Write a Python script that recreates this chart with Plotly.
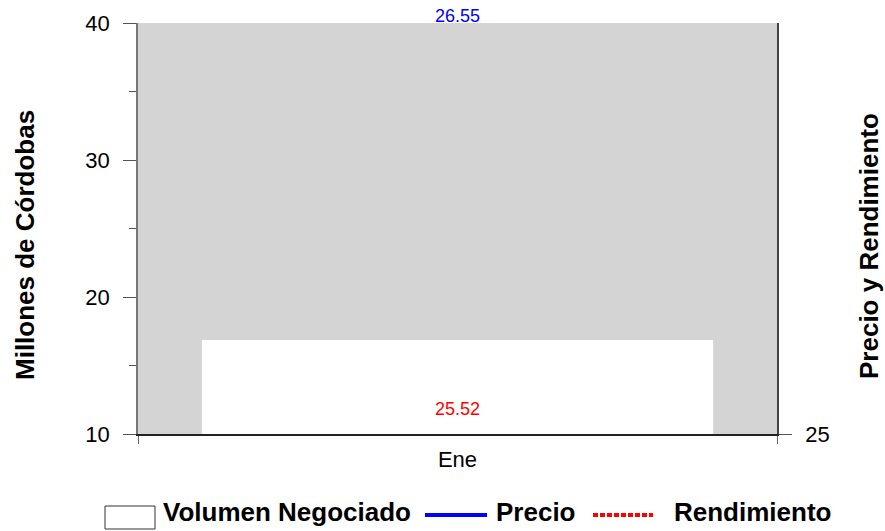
import plotly.graph_objects as go

# ---- data ----
meses = ["Ene"]
volumen = [16.86]          # Millones de Córdobas
precio = [26.55]
rendimiento = [25.52]

W, H = 885, 531
L, R, T, B = 138, 777, 23, 434   # plot area in px


def px_x(p):
    return (p - L) / (R - L)


def px_y(p):
    return (B - p) / (B - T)


FONT = "Arial, Liberation Sans, sans-serif"

fig = go.Figure()
fig.add_trace(go.Bar(x=meses, y=volumen, width=0.8, marker=dict(color="white", line=dict(width=0)),
                     name="Volumen Negociado", showlegend=False))
fig.add_trace(go.Scatter(x=meses, y=precio, yaxis="y2", mode="lines+text", text=[f"{v:.2f}" for v in precio],
                         textposition="top center", textfont=dict(color="#0000ff", size=18, family=FONT),
                         line=dict(color="#0000ff", width=4), cliponaxis=False, name="Precio", showlegend=False))
fig.add_trace(go.Scatter(x=meses, y=rendimiento, yaxis="y3", mode="lines+text", text=[f"{v:.2f}" for v in rendimiento],
                         textposition="top center", textfont=dict(color="#ff0000", size=18, family=FONT),
                         line=dict(color="#ff0000", width=4, dash="dot"), cliponaxis=False, name="Rendimiento",
                         showlegend=False))

shapes = [
    dict(type="rect", xref="paper", yref="paper", x0=px_x(105), x1=px_x(155), y0=px_y(529), y1=px_y(506),
         line=dict(color="#333333", width=1), fillcolor="white"),
    dict(type="line", xref="paper", yref="paper", x0=px_x(425), x1=px_x(487), y0=px_y(515), y1=px_y(515),
         line=dict(color="#0000ff", width=4)),
    dict(type="line", xref="paper", yref="paper", x0=px_x(593), x1=px_x(653), y0=px_y(515), y1=px_y(515),
         line=dict(color="#ff0000", width=4, dash="5px,2px")),
]

ann = []
for txt, x in [("Volumen Negociado", 161), ("Precio", 494), ("Rendimiento", 672)]:
    ann.append(dict(text=f"<b>{txt}</b>", xref="paper", yref="paper", x=px_x(x), y=px_y(512),
                    xanchor="left", yanchor="middle", showarrow=False,
                    font=dict(size=26, family=FONT, color="black")))
ann.append(dict(text="<b>Millones de Córdobas</b>", xref="paper", yref="paper", x=px_x(25), y=px_y(245),
                xanchor="center", yanchor="middle", textangle=-90, showarrow=False,
                font=dict(size=26, family=FONT, color="black")))
ann.append(dict(text="<b>Precio y Rendimiento</b>", xref="paper", yref="paper", x=px_x(869), y=px_y(246),
                xanchor="center", yanchor="middle", textangle=-90, showarrow=False,
                font=dict(size=26, family=FONT, color="black")))

fig.update_layout(
    width=W, height=H,
    margin=dict(l=L, r=W - R, t=T, b=H - B, pad=0),
    paper_bgcolor="white", plot_bgcolor="#d4d4d4",
    font=dict(family=FONT, color="black"),
    showlegend=False,
    shapes=shapes, annotations=ann,
    xaxis=dict(type="category", range=[-0.5, 0.5], showgrid=False, zeroline=False,
               showline=True, linecolor="#222222", linewidth=1.5,
               ticks="outside", tickson="boundaries", ticklen=8, tickcolor="#666666",
               tickfont=dict(size=22), ticklabelstandoff=5),
    yaxis=dict(range=[10, 40], dtick=10, showgrid=False, zeroline=False,
               showline=True, linecolor="#777777", linewidth=1.5,
               ticks="outside", ticklen=13, tickcolor="#555555", tickwidth=1,
               minor=dict(dtick=5, ticks="outside", ticklen=7, tickcolor="#555555", showgrid=False),
               tickfont=dict(size=22), ticklabelstandoff=9),
    yaxis2=dict(range=[25, 26.565], overlaying="y", side="right", tickvals=[25], showgrid=False,
                zeroline=False, showline=True, linecolor="#444444", linewidth=1.5,
                ticks="outside", ticklen=13, tickcolor="#555555", tickfont=dict(size=22),
                ticklabelstandoff=9),
    yaxis3=dict(range=[25, 40], overlaying="y", visible=False),
)

fig.write_html("out.html", config={"displayModeBar": False},
               post_script="document.body.style.margin='0';")
